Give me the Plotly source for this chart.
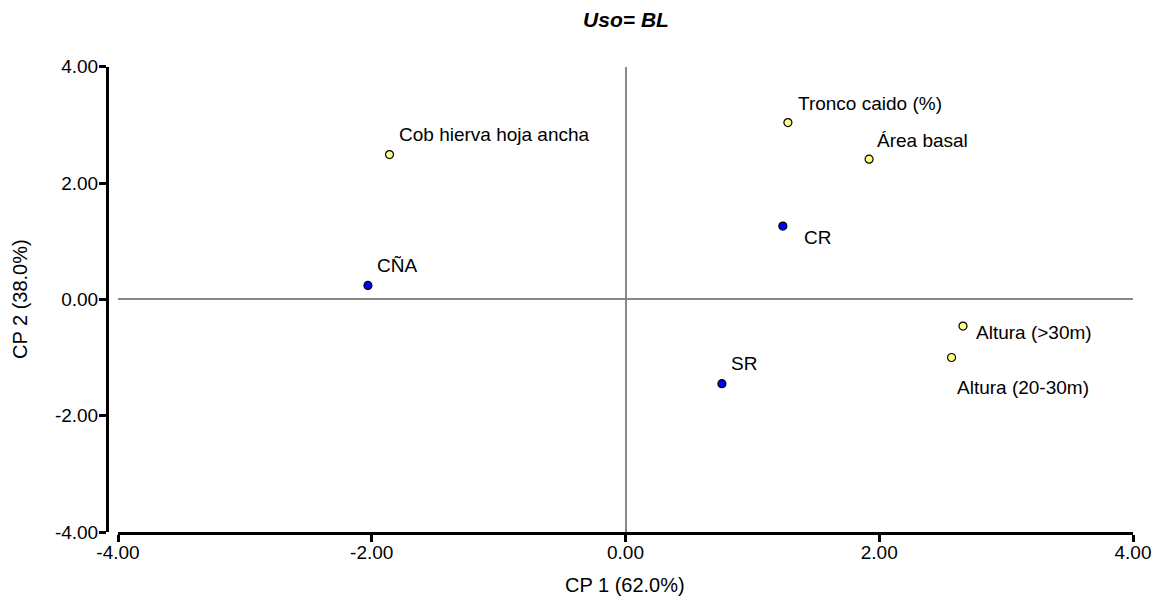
import plotly.graph_objects as go

# ---- data ----
var_names = ["Cob hierva hoja ancha", "Tronco caido (%)", "Área basal", "Altura (>30m)", "Altura (20-30m)"]
var_x = [-1.86, 1.28, 1.92, 2.66, 2.57]
var_y = [2.49, 3.04, 2.41, -0.46, -1.00]

site_names = ["CÑA", "CR", "SR"]
site_x = [-2.03, 1.24, 0.76]
site_y = [0.24, 1.26, -1.45]

tick_vals = [-4, -2, 0, 2, 4]
tick_text = [f"{v:.2f}" for v in tick_vals]
x_title = "CP 1 (62.0%)"
y_title = "CP 2 (38.0%)"
chart_title = "Uso= BL"

# ---- label placement (style: pixel offsets from each marker, dx right, dy down) ----
var_label_offsets = [(10, -20), (10.6, -19.5), (9.3, -19), (14, 6.5), (6.7, 30)]
site_label_offsets = [(10.4, -19.4), (22.6, 11.3), (10.4, -19.7)]
LABEL_PAD_X = -3

FONT = "Liberation Sans, Arial, sans-serif"
W, H = 1155, 597

def px_x(p):
    return p / W

def px_y(p):
    return 1 - p / H

fig = go.Figure()
fig.add_trace(go.Scatter(
    x=var_x, y=var_y, mode="markers", name="Variables",
    marker=dict(size=8, color="#FFFF80", line=dict(color="black", width=1.2)),
    showlegend=False, hoverinfo="text", text=var_names))
fig.add_trace(go.Scatter(
    x=site_x, y=site_y, mode="markers", name="Sitios",
    marker=dict(size=8, color="#0000FF", line=dict(color="black", width=1.2)),
    showlegend=False, hoverinfo="text", text=site_names))

annotations = []
for names, xs, ys, offs in [(var_names, var_x, var_y, var_label_offsets),
                            (site_names, site_x, site_y, site_label_offsets)]:
    for n, xv, yv, (dx, dy) in zip(names, xs, ys, offs):
        annotations.append(dict(
            x=xv, y=yv, xref="x", yref="y", text=n, showarrow=False,
            xanchor="left", yanchor="middle", xshift=dx + LABEL_PAD_X, yshift=-dy,
            font=dict(family=FONT, size=19, color="black")))

# axis titles placed as paper annotations for exact position
annotations.append(dict(x=px_x(625), y=px_y(585), xref="paper", yref="paper", text=x_title,
                        showarrow=False, xanchor="center", yanchor="middle",
                        font=dict(family=FONT, size=20, color="black")))
annotations.append(dict(x=px_x(20), y=px_y(299), xref="paper", yref="paper", text=y_title,
                        showarrow=False, xanchor="center", yanchor="middle", textangle=-90,
                        font=dict(family=FONT, size=20, color="black")))

x_left, x_right = 118, 1133
y_top, y_bottom = 66.7, 532

axis_common = dict(
    range=[-4, 4], tickvals=tick_vals, ticktext=tick_text,
    ticks="outside", ticklen=7, tickwidth=2.5, tickcolor="black",
    showline=True, linewidth=3, linecolor="black",
    zeroline=True, zerolinecolor="#888888", zerolinewidth=2,
    showgrid=False, automargin=False,
    tickfont=dict(family=FONT, size=19, color="black"),
)

fig.update_layout(
    width=W, height=H,
    margin=dict(l=0, r=0, t=0, b=0, autoexpand=False),
    paper_bgcolor="white", plot_bgcolor="white",
    font=dict(family=FONT, color="black"),
    title=dict(text="<b><i>" + chart_title + "</i></b>", x=px_x(626), xanchor="center",
               y=px_y(20), yanchor="middle", font=dict(family=FONT, size=21, color="black")),
    xaxis=dict(domain=[px_x(x_left), px_x(x_right)], anchor="y", ticklabelstandoff=-6,
               **axis_common),
    yaxis=dict(domain=[px_y(y_bottom), px_y(y_top)], anchor="free", position=px_x(107),
               ticklabelstandoff=-3, **axis_common),
    annotations=annotations,
    showlegend=False,
)

fig.write_html(
    "out.html",
    config={"displayModeBar": False},
    post_script="document.body.style.margin='0';document.body.style.overflow='hidden';",
)
